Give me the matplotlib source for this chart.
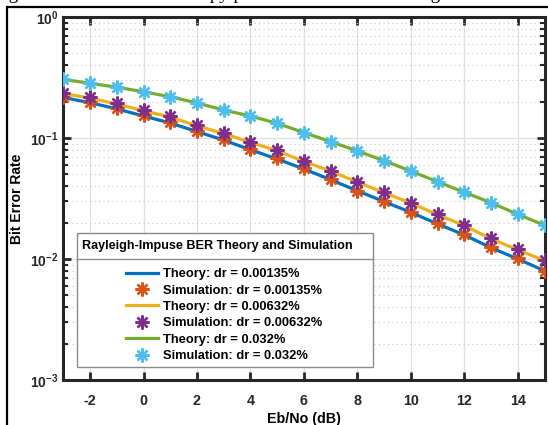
import numpy as np
import matplotlib
matplotlib.use("Agg")
import matplotlib.pyplot as plt
import matplotlib.ticker as mtick
from matplotlib.patches import Rectangle
from matplotlib.lines import Line2D

plt.rcParams['font.family'] = ['Liberation Sans', 'DejaVu Sans']
plt.rcParams['mathtext.fontset'] = 'custom'
plt.rcParams['mathtext.rm'] = 'Liberation Sans'
plt.rcParams['mathtext.bf'] = 'Liberation Sans:bold'

# Eb/No values (dB)
ebno = [-3, -2, -1, 0, 1, 2, 3, 4, 5, 6, 7, 8, 9, 10, 11, 12, 13, 14, 15]

theory_00135 = [0.216, 0.196, 0.174, 0.152, 0.133, 0.113, 0.0960, 0.0800, 0.0670, 0.0555,
                0.0452, 0.0366, 0.0298, 0.0243, 0.0195, 0.0158, 0.0124, 0.0100, 0.0080]
sim_00135 = [0.219, 0.200, 0.176, 0.155, 0.136, 0.115, 0.0975, 0.0807, 0.0680, 0.0562,
             0.0456, 0.0367, 0.0301, 0.0246, 0.0197, 0.0161, 0.0125, 0.0101, 0.0080]
theory_00632 = [0.233, 0.214, 0.191, 0.168, 0.149, 0.126, 0.109, 0.0920, 0.0785, 0.0640,
                0.0532, 0.0432, 0.0353, 0.0290, 0.0232, 0.0189, 0.0147, 0.0119, 0.0097]
sim_00632 = [0.237, 0.217, 0.194, 0.170, 0.152, 0.128, 0.111, 0.0930, 0.0796, 0.0645,
             0.0537, 0.0435, 0.0356, 0.0292, 0.0234, 0.0191, 0.0148, 0.0120, 0.0098]
theory_032 = [0.305, 0.283, 0.263, 0.241, 0.219, 0.195, 0.170, 0.152, 0.132, 0.111,
              0.0933, 0.0781, 0.0649, 0.0533, 0.0435, 0.0356, 0.0292, 0.0234, 0.0190]
sim_032 = [0.307, 0.283, 0.263, 0.241, 0.219, 0.196, 0.170, 0.152, 0.132, 0.111,
           0.0933, 0.0781, 0.0649, 0.0533, 0.0435, 0.0356, 0.0292, 0.0234, 0.0191]

labels = ['Theory: dr = 0.00135%', 'Simulation: dr = 0.00135%',
          'Theory: dr = 0.00632%', 'Simulation: dr = 0.00632%',
          'Theory: dr = 0.032%', 'Simulation: dr = 0.032%']
xticks = [-2, 0, 2, 4, 6, 8, 10, 12, 14]

W, H = 548, 425
fig = plt.figure(figsize=(W / 100, H / 100), dpi=100)
ax = fig.add_axes([63.3 / W, 1 - 380 / H, (544.5 - 63.3) / W, (380 - 17) / H])

star = (8, 2, 0)
ax.plot(ebno, theory_00135, color='#0072BD', lw=2.3, label=labels[0], zorder=3)
ax.plot(ebno, sim_00135, ls='none', marker=star, ms=10, mew=1.7, color='#D95319', label=labels[1], zorder=4)
ax.plot(ebno, theory_00632, color='#EDB120', lw=2.3, label=labels[2], zorder=3)
ax.plot(ebno, sim_00632, ls='none', marker=star, ms=10, mew=1.7, color='#7E2F8E', label=labels[3], zorder=4)
ax.plot(ebno, theory_032, color='#77AC30', lw=2.3, label=labels[4], zorder=3)
ax.plot(ebno, sim_032, ls='none', marker=star, ms=10, mew=1.7, color='#4DBEEE', label=labels[5], zorder=4)

ax.set_yscale('log')
ax.set_xlim(-3, 15)
ax.set_ylim(1e-3, 1)
ax.set_xticks(xticks)
ax.set_xticklabels([str(t) for t in xticks], fontweight='bold', fontsize=10.3)
ax.yaxis.set_major_locator(mtick.LogLocator(base=10, numticks=10))
ax.yaxis.set_minor_locator(mtick.LogLocator(base=10, subs=np.arange(2, 10), numticks=10))
ax.yaxis.set_major_formatter(mtick.FuncFormatter(lambda v, p: r'$\mathbf{10^{%d}}$' % round(np.log10(v))))
ax.yaxis.set_minor_formatter(mtick.NullFormatter())
for lab in ax.get_yticklabels():
    lab.set_fontsize(10)

ax.tick_params(which='both', direction='in', top=True, right=True, colors='#262626')
ax.tick_params(which='major', length=6, width=2)
ax.tick_params(which='minor', length=3.5, width=1.5)
ax.tick_params(axis='x', pad=10)
for s in ax.spines.values():
    s.set_linewidth(2.2)
    s.set_color('#262626')

ax.grid(True, which='major', color='#e0e0e0', lw=0.9, ls='-')
ax.grid(True, which='minor', axis='y', color='#c8c8c8', lw=0.8, ls=(0, (1, 3)))
ax.set_axisbelow(True)

ax.set_xlabel('Eb/No (dB)', fontweight='bold', fontsize=10.3, labelpad=3)
ax.set_ylabel('Bit Error Rate', fontweight='bold', fontsize=10, labelpad=4)

# legend with a title row, drawn as a box
box_l, box_r, box_t, box_b, sep = 77, 373, 233, 367, 259
ax.add_patch(Rectangle((box_l / W, 1 - box_b / H), (box_r - box_l) / W, (box_b - box_t) / H,
                       transform=fig.transFigure, facecolor='white', edgecolor='#8c8c8c',
                       lw=1.0, zorder=5, clip_on=False))
ax.add_line(Line2D([box_l / W, box_r / W], [1 - sep / H, 1 - sep / H],
                   transform=fig.transFigure, color='#8c8c8c', lw=1.0, zorder=6, clip_on=False))
ax.text(82 / W, 1 - 246 / H, 'Rayleigh-Impuse BER Theory and Simulation', fontweight='bold',
        fontsize=9.1, va='center', ha='left', zorder=7, transform=fig.transFigure)
leg = ax.legend(loc='upper center', bbox_to_anchor=(224 / W, 1 - 259 / H), bbox_transform=fig.transFigure,
                frameon=False, prop={'weight': 'bold', 'size': 9.3}, handlelength=2.5,
                handletextpad=0.35, labelspacing=0.34, borderpad=0.2)
leg.set_zorder(8)

# outer border and clipped caption above the figure
fig.patches.append(Rectangle((7 / W, -0.05), 1.1, 1 - 7 / H + 0.05, transform=fig.transFigure,
                             facecolor='none', edgecolor='black', lw=1.6, zorder=1))
fig.text(-7 / W, 1 + 1.5 / H, 'Figure 5: Simulation hard copy plot of BER obtained using',
         family='Liberation Serif', fontsize=13.6, va='baseline', ha='left')

fig.savefig('out.png', dpi=100)
